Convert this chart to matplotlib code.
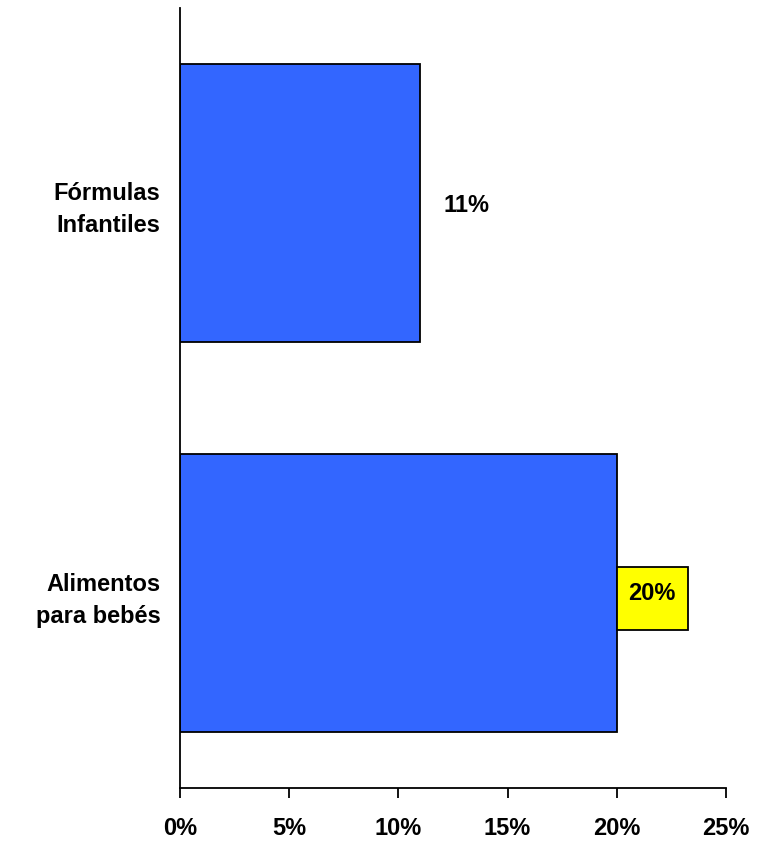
import matplotlib
matplotlib.use("Agg")
import matplotlib.pyplot as plt
from matplotlib.path import Path

categories = ["Alimentos\npara bebés", "Fórmulas\nInfantiles"]
values = [20, 11]
labels = ["20%", "11%"]
xticks = [0, 5, 10, 15, 20, 25]
xticklabels = ["0%", "5%", "10%", "15%", "20%", "25%"]

plt.rcParams['font.family'] = ['Liberation Sans', 'DejaVu Sans']
FS = 17
fig = plt.figure(figsize=(7.61, 8.41), dpi=100)
ax = fig.add_axes([0.2365, 0.063, 0.7175, 0.9275])

ypos = list(range(len(categories)))
ax.barh(ypos, values, height=0.714, color="#3366FF", edgecolor="black", linewidth=1.3)

ax.set_xlim(0, 25)
ax.set_ylim(-0.5, 1.5)
ax.set_xticks(xticks)
ax.set_xticklabels(xticklabels, fontsize=FS, fontweight="bold")
ax.set_yticks(ypos)
ax.set_yticklabels(categories, fontsize=FS, fontweight="bold", linespacing=1.5)
ax.tick_params(axis="y", length=0, pad=14)
ax.tick_params(axis="x", length=7, width=1.3, pad=14, direction="out")

for s in ["top", "right"]:
    ax.spines[s].set_visible(False)
for s in ["left", "bottom"]:
    ax.spines[s].set_linewidth(1.3)

PX, PY_TOP, PY_BOT = 0.5, 0.62, 1.10


def rect_box(x0, y0, width, height, mutation_size):
    px = PX * mutation_size
    x_a, y_a = x0 - px, y0 - PY_BOT * mutation_size
    x_b, y_b = x0 + width + px, y0 + height + PY_TOP * mutation_size
    return Path([(x_a, y_a), (x_b, y_a), (x_b, y_b), (x_a, y_b), (x_a, y_a)], closed=True)


# 20% label with yellow box
ax.annotate(labels[0], xy=(values[0], ypos[0]), xytext=(PX * FS, 0), textcoords="offset points",
            ha="left", va="center", fontsize=FS, fontweight="bold",
            bbox=dict(boxstyle=rect_box, facecolor="#FFFF00", edgecolor="black", linewidth=1.3))
# 11% label plain
ax.annotate(labels[1], xy=(values[1], ypos[1]), xytext=(17, -2), textcoords="offset points",
            ha="left", va="center", fontsize=FS, fontweight="bold")

fig.savefig("out.png", dpi=100)
